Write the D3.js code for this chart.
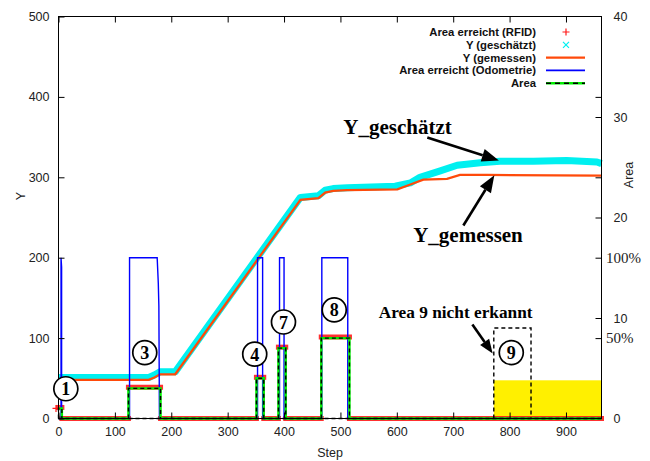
<!DOCTYPE html>
<html><head><meta charset="utf-8">
<script src="https://cdn.jsdelivr.net/npm/d3@7"></script>
<style>
body{margin:0;background:#fff;}
svg{display:block;}
</style></head>
<body><svg id="chart" width="650" height="461"></svg>
<script>
// ---------- data ----------
const xTicks = [0,100,200,300,400,500,600,700,800,900];
const yTicks = [0,100,200,300,400,500];
const y2Ticks = [0,10,20,30,40];
const pctLabels = ["100%","50%"];
const pctValues = [200,100];           // on Y scale

// Y (gemessen)
const measuredSteps = [0,160,170,180,207,429,461,473,487,512,601,624,647,689,712,760,963];
const measuredY     = [48,48,51,55,55,272,274,281,283,284,285,291,297,298,303,303,302];
// Y (geschätzt)
const estimatedSteps = [0,160,170,180,207,429,461,473,487,512,597,624,641,677,707,748,783,842,901,955,963];
const estimatedY     = [51,51,54,58,58,275,277,284,286,287,289,293,300,308,315,318,320,320,321,319,317];
// Area erreicht (Odometrie)
const odoSteps = [0,4.5,4.5,5.5,5.5,126,126,175,177,178,179,353,353,362,362,392,392,400,400,467,467,513,513,963];
const odoY     = [0,0,200,188,0,0,200,200,168,140,0,0,200,200,0,0,200,200,0,0,200,200,0,0];
// Area (green step line)
const areaSteps  = [0,6,124,181,351,364,390,403,466,516,963];
const areaValues = [1,0,3,0,4,0,7,0,8,0,0];
// Area boxes (black dashed)
const boxStart = [0,124,351,390,466,772];
const boxEnd   = [6,181,364,403,516,838];
const boxArea  = [1,3,4,7,8,9];
// Area erreicht (RFID)
const rfidStart = [0,6,124,181,351,364,390,403,466,516];
const rfidEnd   = [6,124,181,351,364,390,403,466,516,963];
const rfidArea  = [1,0,3,0,4,0,7,0,8,0];
// yellow region
const yellowStart = 772, yellowEnd = 963, yellowY = 47.5;

// annotations (data coords)
const circleLabels = ["1","3","4","7","8","9"];
const circleSteps  = [13,153,348,399,489,803];
const circleY      = [37,82,80,120,135,82];

const legendLabels = ["Area erreicht (RFID)","Y (geschätzt)","Y (gemessen)","Area erreicht (Odometrie)","Area"];

// ---------- scales ----------
const svg = d3.select("#chart");
const x  = d3.scaleLinear().domain([0,963]).range([58.5,601.5]);
const y  = d3.scaleLinear().domain([0,500]).range([418.5,16.5]);
const y2 = d3.scaleLinear().domain([0,40]).range([418.5,16.5]);

const C = {red:"#ff1a1a", cyan:"#00f0f0", orange:"#ff4a0a", blue:"#0000ff", green:"#00ee00", yellow:"#fff000"};
const sans = "'Liberation Sans', Arial, sans-serif";
const serif = "'Liberation Serif', 'Times New Roman', serif";

// yellow region
svg.append("rect")
  .attr("x", x(yellowStart)).attr("y", y(yellowY))
  .attr("width", x(yellowEnd)-x(yellowStart)).attr("height", y(0)-y(yellowY))
  .attr("fill", C.yellow);

// RFID (red)
const rfid = rfidStart.map((s,i)=>({s, e:rfidEnd[i], a:rfidArea[i]}));
svg.append("g").selectAll("line").data(rfid).join("line")
  .attr("x1", d=>x(d.s)).attr("x2", d=>x(d.e))
  .attr("y1", d=>y2(d.a)-(d.a>0?1:0)).attr("y2", d=>y2(d.a)-(d.a>0?1:0))
  .attr("stroke", C.red).attr("stroke-width", 5).attr("stroke-linecap","square").attr("opacity",0.9);
// first RFID point marker
svg.append("path")
  .attr("d", ()=>{const px=x(rfidStart[0])-2.5, py=y2(rfidArea[0]); return `M${px-3.5},${py}H${px+3.5}M${px},${py-3.5}V${py+3.5}`;})
  .attr("stroke", C.red).attr("stroke-width",1.2).attr("fill","none");

// Y (geschätzt) cyan band
const est = estimatedSteps.map((s,i)=>[s, estimatedY[i]]);
svg.append("path").datum(est)
  .attr("d", d3.line().x(d=>x(d[0])).y(d=>y(d[1])))
  .attr("fill","none").attr("stroke", C.cyan).attr("stroke-width",7).attr("stroke-linejoin","round");

// Y (gemessen) orange
const mea = measuredSteps.map((s,i)=>[s, measuredY[i]]);
svg.append("path").datum(mea)
  .attr("d", d3.line().x(d=>x(d[0])).y(d=>y(d[1])))
  .attr("fill","none").attr("stroke", C.orange).attr("stroke-width",2.3);

// Odometrie blue
const odo = odoSteps.map((s,i)=>[s, odoY[i]]);
svg.append("path").datum(odo)
  .attr("d", d3.line().x(d=>x(d[0])).y(d=>y(d[1])))
  .attr("fill","none").attr("stroke", C.blue).attr("stroke-width",1.4);

// Area green step
const ar = areaSteps.map((s,i)=>[s, areaValues[i]]);
svg.append("path").datum(ar)
  .attr("d", d3.line().curve(d3.curveStepAfter).x(d=>x(d[0])).y(d=>y2(d[1])))
  .attr("fill","none").attr("stroke", C.green).attr("stroke-width",2.4);

// Area boxes black dashed
svg.append("line").attr("x1",x(0)).attr("x2",x(963)).attr("y1",y2(0)).attr("y2",y2(0))
  .attr("stroke","#000").attr("stroke-width",1.4).attr("stroke-dasharray","4,3");
const boxes = boxStart.map((s,i)=>({s, e:boxEnd[i], a:boxArea[i]}));
svg.append("g").selectAll("path").data(boxes).join("path")
  .attr("d", d=>`M${x(d.s)},${y2(0)}V${y2(d.a)}H${x(d.e)}V${y2(0)}`)
  .attr("fill","none").attr("stroke","#000").attr("stroke-width",1.4).attr("stroke-dasharray","4,3");

// ---------- axes ----------
function styleAxis(g){
  g.select(".domain").remove();
  g.selectAll(".tick line").attr("stroke","#000").attr("stroke-width",1);
  g.selectAll(".tick text").attr("font-family",sans).attr("font-size","12.5px").attr("fill","#222");
}
svg.append("g").attr("transform","translate(58.5,0)")
  .call(d3.axisLeft(y).tickValues(yTicks).tickSize(-6).tickPadding(9)).call(styleAxis);
svg.append("g").attr("transform","translate(0,418.5)")
  .call(d3.axisBottom(x).tickValues(xTicks).tickSize(-6).tickPadding(9)).call(styleAxis);
svg.append("g").attr("transform","translate(0,16.5)")
  .call(d3.axisTop(x).tickValues(xTicks).tickSize(-6).tickFormat("")).call(styleAxis);
svg.append("g").attr("transform","translate(601.5,0)")
  .call(d3.axisRight(y2).tickValues(y2Ticks).tickSize(0).tickPadding(12)).call(styleAxis);
svg.append("g").attr("transform","translate(601.5,0)")
  .call(d3.axisRight(y).tickValues([100,200,300,400]).tickSize(-6).tickFormat("")).call(styleAxis);
svg.append("g").attr("transform","translate(601.5,0)")
  .call(d3.axisRight(y2).tickValues([10,20,30]).tickSize(-6).tickFormat("")).call(styleAxis);
svg.append("g").selectAll("text").data(pctLabels).join("text")
  .attr("x",606).attr("y",(d,i)=>y(pctValues[i])+5)
  .attr("font-family",serif).attr("font-size","15px").attr("fill","#222").text(d=>d);

// frame
svg.append("rect").attr("x",58.5).attr("y",16.5).attr("width",543).attr("height",402)
  .attr("fill","none").attr("stroke","#000").attr("stroke-width",1);

// axis titles
svg.append("text").attr("transform","translate(25,196) rotate(-90)").attr("text-anchor","middle")
  .attr("font-family",sans).attr("font-size","12.5px").attr("fill","#222").text("Y");
svg.append("text").attr("x",330).attr("y",457).attr("text-anchor","middle")
  .attr("font-family",sans).attr("font-size","12.5px").attr("fill","#222").text("Step");
svg.append("text").attr("transform","translate(633,175) rotate(-90)").attr("text-anchor","middle")
  .attr("font-family",sans).attr("font-size","12.5px").attr("fill","#222").text("Area");

// ---------- annotations ----------
const circ = svg.append("g").selectAll("g").data(circleLabels).join("g")
  .attr("transform",(d,i)=>`translate(${x(circleSteps[i])},${y(circleY[i])})`);
circ.append("circle").attr("r",12).attr("fill","#fff").attr("stroke","#000").attr("stroke-width",1.7);
circ.append("text").attr("text-anchor","middle").attr("y",6.5)
  .attr("font-family",serif).attr("font-weight","bold").attr("font-size","18px").text(d=>d);

function arrow(s0,v0,s1,v1,len,wid){
  const x0=x(s0),y0=y(v0),x1=x(s1),y1=y(v1);
  const ang=Math.atan2(y1-y0,x1-x0);
  const bx=x1-len*Math.cos(ang), by=y1-len*Math.sin(ang);
  svg.append("line").attr("x1",x0).attr("y1",y0).attr("x2",bx).attr("y2",by)
    .attr("stroke","#000").attr("stroke-width",2.6);
  const px=-Math.sin(ang)*wid/2, py=Math.cos(ang)*wid/2;
  svg.append("path").attr("d",`M${x1},${y1}L${bx+px},${by+py}L${bx-px},${by-py}Z`).attr("fill","#000");
}
svg.append("text").attr("x",x(505)).attr("y",y(354)).attr("font-family",serif).attr("font-weight","bold")
  .attr("font-size","21px").text("Y_geschätzt");
arrow(654,349.5,781,321,17,13);
svg.append("text").attr("x",x(629)).attr("y",y(219.5)).attr("font-family",serif).attr("font-weight","bold")
  .attr("font-size","21px").text("Y_gemessen");
arrow(718,240,773,302.5,17,13);
svg.append("text").attr("x",x(568)).attr("y",y(125)).attr("font-family",serif).attr("font-weight","bold")
  .attr("font-size","17.3px").text("Area 9 nicht erkannt");
arrow(734,117,770,81,14,11);

// ---------- legend ----------
const ly = [32,44.8,57.6,70.4,83.2];
const lg = svg.append("g");
lg.selectAll("text").data(legendLabels).join("text")
  .attr("x",536).attr("y",(d,i)=>ly[i]+4).attr("text-anchor","end")
  .attr("font-family",sans).attr("font-weight","bold").attr("font-size","11.3px").attr("fill","#111").text(d=>d);
lg.append("path").attr("d",`M${562.5},${ly[0]}H${569.5}M566,${ly[0]-3.5}V${ly[0]+3.5}`).attr("stroke",C.red).attr("stroke-width",1.2);
lg.append("path").attr("d",`M${563},${ly[1]-3}L569,${ly[1]+3}M563,${ly[1]+3}L569,${ly[1]-3}`).attr("stroke",C.cyan).attr("stroke-width",1.2);
lg.append("line").attr("x1",546).attr("x2",585).attr("y1",ly[2]).attr("y2",ly[2]).attr("stroke",C.orange).attr("stroke-width",2.3);
lg.append("line").attr("x1",546).attr("x2",585).attr("y1",ly[3]).attr("y2",ly[3]).attr("stroke",C.blue).attr("stroke-width",1.6);
lg.append("line").attr("x1",546).attr("x2",585).attr("y1",ly[4]).attr("y2",ly[4]).attr("stroke",C.green).attr("stroke-width",2.4);
lg.append("line").attr("x1",546).attr("x2",585).attr("y1",ly[4]).attr("y2",ly[4]).attr("stroke","#000").attr("stroke-width",1.4).attr("stroke-dasharray","5,4");
</script></body></html>
